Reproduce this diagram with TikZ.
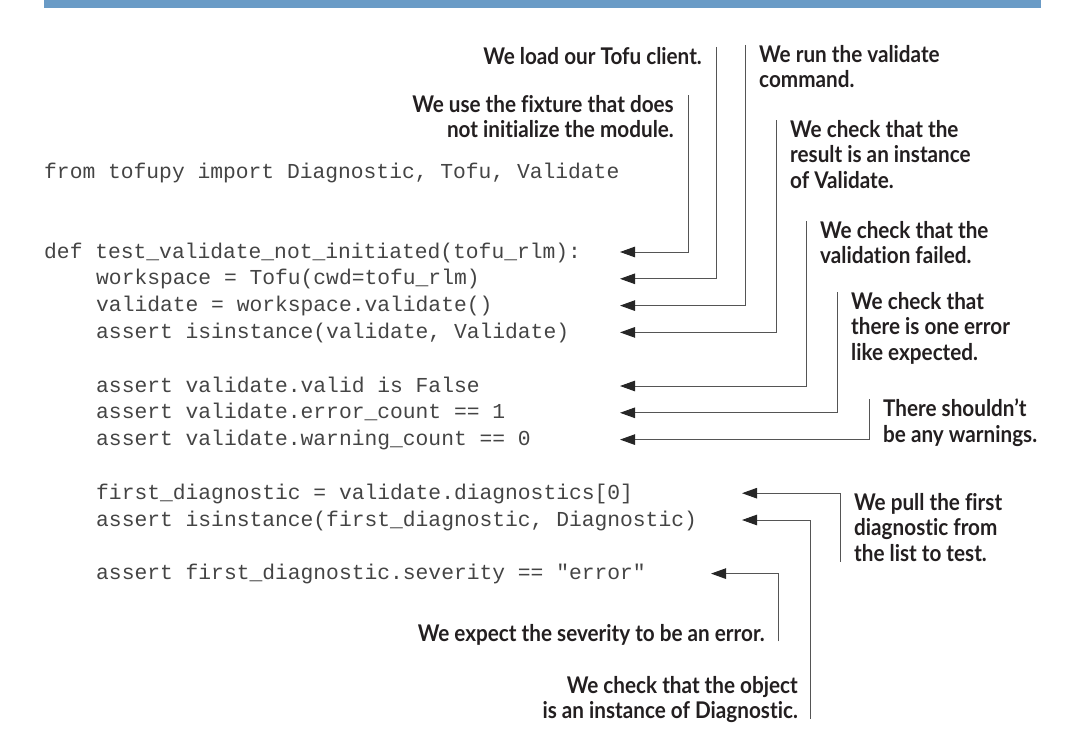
\documentclass[tikz,border=0pt]{standalone}
\usepackage{fontspec}
\setmonofont{Liberation Mono}
\newfontfamily\notefont{Lato}[FakeStretch=0.9, Ligatures=NoCommon]
\usetikzlibrary{arrows.meta}
\definecolor{barblue}{HTML}{6A9BC6}
\definecolor{codegray}{HTML}{444444}
\definecolor{notetext}{HTML}{231F20}
\definecolor{linegray}{HTML}{555555}
\tikzset{
  code/.style={anchor=base west, inner sep=0pt, text=codegray,
    font=\ttfamily\fontsize{21.3}{24}\selectfont},
  note/.style={inner sep=0pt, text=notetext,
    font=\notefont\bfseries\fontsize{23}{25.5}\selectfont},
  pointer/.style={draw=linegray, line width=1pt,
    -{Triangle[length=15pt,width=10.5pt,color=black!85]}}
}
\begin{document}
\begin{tikzpicture}[x=1pt,y=-1pt]
\useasboundingbox (0,0) rectangle (1070,752);
\fill[barblue] (44,0) rectangle (1041,8.5);
% code lines
\node[code] (cFrom) at (44,178) {from tofupy import Diagnostic, Tofu, Validate};
\node[code] (cDef) at (44,258) {def test\_validate\_not\_initiated(tofu\_rlm):};
\node[code] (cWs) at (96,284.8) {workspace = Tofu(cwd=tofu\_rlm)};
\node[code] (cVal) at (96,311.6) {validate = workspace.validate()};
\node[code] (cInst) at (96,338.4) {assert isinstance(validate, Validate)};
\node[code] (cFalse) at (96,392) {assert validate.valid is False};
\node[code] (cErr) at (96,418.8) {assert validate.error\_count == 1};
\node[code] (cWarn) at (96,445.6) {assert validate.warning\_count == 0};
\node[code] (cFirst) at (96,499.2) {first\_diagnostic = validate.diagnostics[0]};
\node[code] (cDiag) at (96,526) {assert isinstance(first\_diagnostic, Diagnostic)};
\node[code] (cSev) at (96,579.6) {assert first\_diagnostic.severity == "error"};
% arrow tips
\coordinate (aDef) at (620,252);
\coordinate (aWs) at (620,278.8);
\coordinate (aVal) at (620,305.6);
\coordinate (aInst) at (620,332.4);
\coordinate (aFalse) at (620,386);
\coordinate (aErr) at (620,412.8);
\coordinate (aWarn) at (620,439.6);
\coordinate (aFirst) at (742,493.2);
\coordinate (aDiag) at (742,520);
\coordinate (aSev) at (711,573.6);
% notes
\node[note, anchor=north east, align=right] (nFix) at (674,95) {We use the fixture that does\\not initialize the module.};
\node[note, anchor=north east, align=right] (nLoad) at (702,47) {We load our Tofu client.};
\node[note, anchor=north west, align=left] (nRun) at (759,45) {We run the validate\\command.};
\node[note, anchor=north west, align=left] (nRes) at (790,120) {We check that the\\result is an instance\\of Validate.};
\node[note, anchor=north west, align=left] (nFail) at (820,221) {We check that the\\validation failed.};
\node[note, anchor=north west, align=left] (nOne) at (851,292) {We check that\\there is one error\\like expected.};
\node[note, anchor=north west, align=left] (nWarn) at (883,399) {There shouldn’t\\be any warnings.};
\node[note, anchor=north west, align=left] (nPull) at (854,493) {We pull the first\\diagnostic from\\the list to test.};
\node[note, anchor=north east, align=right] (nSev) at (765,624) {We expect the severity to be an error.};
\node[note, anchor=north east, align=right] (nObj) at (798,676) {We check that the object\\is an instance of Diagnostic.};
% connectors
\draw[pointer] ([xshift=14pt]nFix.north east) |- (aDef);
\draw[pointer] ([xshift=14pt]nLoad.north east) |- (aWs);
\draw[pointer] ([xshift=-14pt]nRun.north west) |- (aVal);
\draw[pointer] ([xshift=-14pt]nRes.north west) |- (aInst);
\draw[pointer] ([xshift=-14pt]nFail.north west) |- (aFalse);
\draw[pointer] ([xshift=-14pt]nOne.north west) |- (aErr);
\draw[pointer] ([xshift=-14pt]nWarn.north west) |- (aWarn);
\draw[pointer] ([xshift=-14pt]nPull.south west) |- (aFirst);
\draw[pointer] ([xshift=13pt]nSev.base east) |- (aSev);
\draw[pointer] ([xshift=12pt,yshift=4.5pt]nObj.south east) |- (aDiag);
\end{tikzpicture}
\end{document}
